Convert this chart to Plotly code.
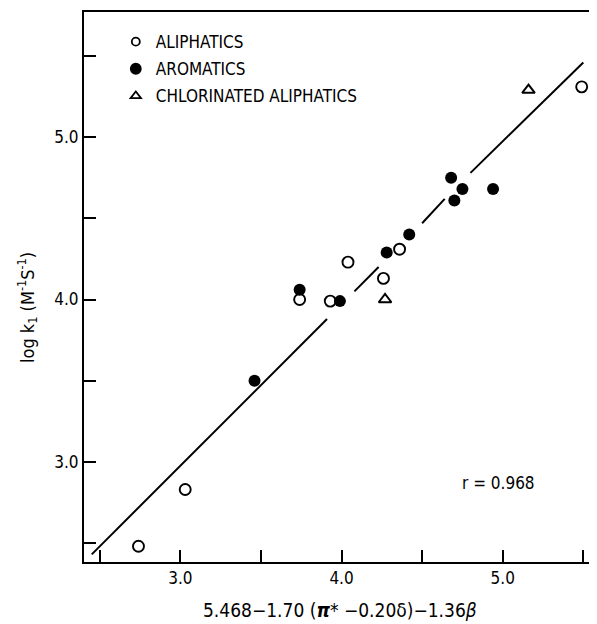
import plotly.graph_objects as go

# Data
aliph_x = [5.49, 4.36, 4.04, 4.26, 3.74, 3.93, 3.03, 2.74]
aliph_y = [5.31, 4.31, 4.23, 4.13, 4.00, 3.99, 2.83, 2.48]

arom_x = [4.68, 4.75, 4.70, 4.94, 4.42, 4.28, 3.74, 3.99, 3.46]
arom_y = [4.75, 4.68, 4.61, 4.68, 4.40, 4.29, 4.06, 3.99, 3.50]

chlor_x = [5.16, 4.27]
chlor_y = [5.29, 4.00]

# Regression line, drawn in broken segments as in the original
fit_x = [2.45, 3.91, None, 4.08, 4.23, None, 4.50, 4.64, None, 4.80, 5.50]
fit_y = [2.43, 3.88, None, 4.05, 4.20, None, 4.47, 4.62, None, 4.78, 5.46]

major_ticks = [3.0, 4.0, 5.0]
major_text = ["3.0", "4.0", "5.0"]

FONT = "Liberation Sans Narrow, Arial Narrow, DejaVu Sans Condensed, Liberation Sans, sans-serif"
fig = go.Figure()

fig.add_trace(go.Scatter(x=fit_x, y=fit_y, mode="lines",
                         line=dict(color="black", width=2),
                         showlegend=False, hoverinfo="skip"))

fig.add_trace(go.Scatter(x=aliph_x, y=aliph_y, mode="markers",
                         marker=dict(symbol="circle-open", size=11, color="black",
                                     line=dict(width=1.9, color="black")),
                         showlegend=False))
fig.add_trace(go.Scatter(x=arom_x, y=arom_y, mode="markers",
                         marker=dict(symbol="circle", size=12, color="black"),
                         showlegend=False))
fig.add_trace(go.Scatter(x=chlor_x, y=chlor_y, mode="markers",
                         marker=dict(symbol="triangle-up-open", size=11, color="black",
                                     line=dict(width=2, color="black")),
                         showlegend=False))

# legend entries (smaller symbols as in the original key)
legend_names = ["ALIPHATICS", "AROMATICS", "CHLORINATED ALIPHATICS"]
legend_symbols = ["circle-open", "circle", "triangle-up-open"]
legend_sizes = [8, 10, 9]
for i, (nm, sym, sz) in enumerate(zip(legend_names, legend_symbols, legend_sizes)):
    fig.add_trace(go.Scatter(x=[None], y=[None], mode="markers", name=nm,
                             legendgroup=f"g{i}",
                             marker=dict(symbol=sym, size=sz, color="black",
                                         line=dict(width=1.8, color="black"))))

axis_common = dict(showgrid=False, zeroline=False, automargin=False,
                   showline=True, linecolor="black", linewidth=2,
                   ticks="inside", ticklen=12, tickwidth=2, tickcolor="black",
                   tickvals=major_ticks, ticktext=major_text,
                   tickfont=dict(size=17),
                   minor=dict(ticks="inside", ticklen=12, tickwidth=2,
                              tickcolor="black", tick0=2.5, dtick=1.0,
                              showgrid=False))

x_title = "5.468\u22121.70 (<i><b>\u03c0</b></i>* \u22120.20\u03b4)\u22121.36<i>\u03b2</i>"
y_title = "log k<sub>1</sub> (M<sup>-1</sup>S<sup>-1</sup>)"

fig.update_layout(
    width=589, height=616,
    margin=dict(l=76, r=0, t=4, b=62, autoexpand=False),
    paper_bgcolor="white", plot_bgcolor="white",
    font=dict(family=FONT, size=17, color="black"),
    showlegend=True,
    legend=dict(x=0.062, y=0.978, xanchor="left", yanchor="top",
                bgcolor="rgba(0,0,0,0)", font=dict(size=17),
                traceorder="grouped", tracegroupgap=2,
                itemsizing="trace"),
    xaxis=dict(range=[2.402, 5.585], mirror=True, **axis_common),
    yaxis=dict(range=[2.383, 5.771], mirror=False, **axis_common),
    annotations=[
        dict(text=x_title, xref="paper", yref="paper", x=0.499, y=-0.088,
             xanchor="center", yanchor="middle", showarrow=False,
             font=dict(size=19)),
        dict(text=y_title, textangle=-90,
             xref="paper", yref="paper", x=-0.111, y=0.462,
             xanchor="center", yanchor="middle", showarrow=False,
             font=dict(size=18)),
        dict(text="r = 0.968", xref="paper", yref="paper",
             x=(498 - 84) / 513, y=(562 - 483) / 550,
             xanchor="center", yanchor="middle", showarrow=False,
             font=dict(size=17)),
    ],
)

fig.write_html("out.html")
